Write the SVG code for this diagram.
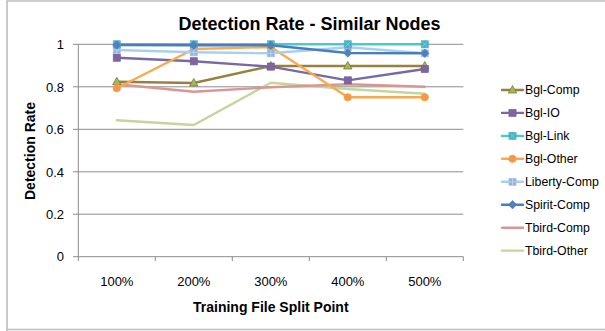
<svg xmlns="http://www.w3.org/2000/svg" width="605" height="331" viewBox="0 0 605 331">
  <style>
    text { font-family: "Liberation Sans", Arial, sans-serif; fill: #000; }
    .title { font-size: 18px; font-weight: bold; text-anchor: middle; }
    .axt { font-size: 14px; font-weight: bold; text-anchor: middle; }
    .ytick { font-size: 13px; text-anchor: end; }
    .xtick { font-size: 13px; text-anchor: middle; }
    .leg { font-size: 12.3px; }
    .grid { stroke: #8c8c8c; stroke-width: 1; fill: none; }
    .axis { stroke: #8c8c8c; stroke-width: 1; fill: none; }
    .s { fill: none; stroke-width: 2.4; stroke-linejoin: round; stroke-linecap: round; }
    .bglcomp { stroke: #98803f; }
    .bglio { stroke: #7669a4; }
    .bgllink { stroke: #4cc9cd; }
    .bglother { stroke: #f9aa4e; }
    .liberty { stroke: #a8cff3; }
    .spirit { stroke: #4a7ebb; }
    .tbcomp { stroke: #d99694; }
    .tbother { stroke: #c3d69b; }
  </style>
  <defs>
    <g id="m-tri"><polygon points="0,-4.5 4.2,3 -4.2,3" fill="#9bbb59" stroke="#8a7536" stroke-width="0.8"/></g>
    <g id="m-sq"><rect x="-3.6" y="-3.6" width="7.2" height="7.2" fill="#8064a2" stroke="#6f5a96" stroke-width="0.6"/></g>
    <g id="m-x"><rect x="-3.6" y="-3.6" width="7.2" height="7.2" fill="#4bacc6" stroke="#3fb6c2" stroke-width="0.6"/><path d="M-3,-3L3,3M3,-3L-3,3" stroke="#7fd8de" stroke-width="0.8"/></g>
    <g id="m-circ"><circle r="3.8" fill="#f79646" stroke="#f9aa4e" stroke-width="0.6"/></g>
    <g id="m-plus"><rect x="-3.6" y="-3.6" width="7.2" height="7.2" fill="#95b3d7" stroke="#a8c6e8" stroke-width="0.6"/><path d="M0,-3.6V3.6M-3.6,0H3.6" stroke="#c5d9f1" stroke-width="0.8"/></g>
    <g id="m-dia"><polygon points="0,-4.2 4.2,0 0,4.2 -4.2,0" fill="#4f81bd" stroke="#4a7ebb" stroke-width="0.6"/></g>
  </defs>

  <!-- chart frame -->
  <rect x="0" y="0" width="605" height="331" fill="#fff"/>
  <path d="M7,331V1H605M7,329.5H605" fill="none" stroke="#bdbdbd" stroke-width="1.6"/>

  <text class="title" x="309.6" y="30">Detection Rate - Similar Nodes</text>

  <!-- gridlines and axes -->
  <g id="grid">
    <path class="grid" d="M73,44.3H463.3M73,86.8H463.3M73,129.3H463.3M73,171.8H463.3M73,214.2H463.3"/>
    <path class="axis" d="M73,256.7H463.3M78.3,44.3V256.7"/>
    <path class="axis" d="M78.3,256.7V261M155.3,256.7V261M232.3,256.7V261M309.3,256.7V261M386.3,256.7V261M463.3,256.7V261"/>
  </g>

  <g id="y-ticks">
    <text class="ytick" x="64" y="49">1</text>
    <text class="ytick" x="64" y="91.5">0.8</text>
    <text class="ytick" x="64" y="134">0.6</text>
    <text class="ytick" x="64" y="176.5">0.4</text>
    <text class="ytick" x="64" y="218.9">0.2</text>
    <text class="ytick" x="64" y="261.4">0</text>
  </g>
  <g id="x-ticks">
    <text class="xtick" x="116.8" y="286">100%</text>
    <text class="xtick" x="193.8" y="286">200%</text>
    <text class="xtick" x="270.8" y="286">300%</text>
    <text class="xtick" x="347.8" y="286">400%</text>
    <text class="xtick" x="424.8" y="286">500%</text>
  </g>

  <text class="axt" x="270.8" y="312">Training File Split Point</text>
  <text class="axt" transform="translate(34.5,151) rotate(-90)">Detection Rate</text>

  <!-- data series -->
  <g id="connectors">
    <polyline class="s tbother" points="116.8,120.3 193.8,125 270.8,82.7 347.8,89 424.8,93.7"/>
    <polyline class="s tbcomp" points="116.8,84.3 193.8,91.7 270.8,87.3 347.8,84.3 424.8,86.7"/>
    <polyline class="s bglcomp" points="116.8,81.7 193.8,83 270.8,66 347.8,66 424.8,66"/>
    <polyline class="s bglio" points="116.8,57.7 193.8,61.3 270.8,66.6 347.8,80.4 424.8,69"/>
    <polyline class="s bglother" points="116.8,88.3 193.8,49 270.8,47 347.8,97.3 424.8,97.3"/>
    <polyline class="s liberty" points="116.8,50 193.8,52.3 270.8,53.3 347.8,47.3 424.8,53.3"/>
    <polyline class="s bgllink" points="116.8,44.3 193.8,44.3 270.8,44.3 347.8,44.3 424.8,44.3"/>
    <polyline class="s spirit" points="116.8,45 193.8,45.3 270.8,45.3 347.8,53 424.8,53.3"/>
  </g>

  <g id="markers">
    <g id="bgl-comp-pts">
      <use href="#m-tri" x="116.8" y="81.7"/><use href="#m-tri" x="193.8" y="83"/><use href="#m-tri" x="270.8" y="66"/><use href="#m-tri" x="347.8" y="66"/><use href="#m-tri" x="424.8" y="66"/>
    </g>
    <g id="bgl-io-pts">
      <use href="#m-sq" x="116.8" y="57.7"/><use href="#m-sq" x="193.8" y="61.3"/><use href="#m-sq" x="270.8" y="66.6"/><use href="#m-sq" x="347.8" y="80.4"/><use href="#m-sq" x="424.8" y="69"/>
    </g>
    <g id="bgl-other-pts">
      <use href="#m-circ" x="116.8" y="88.3"/><use href="#m-circ" x="193.8" y="49"/><use href="#m-circ" x="270.8" y="47"/><use href="#m-circ" x="347.8" y="97.3"/><use href="#m-circ" x="424.8" y="97.3"/>
    </g>
    <g id="liberty-pts">
      <use href="#m-plus" x="116.8" y="50"/><use href="#m-plus" x="193.8" y="52.3"/><use href="#m-plus" x="270.8" y="53.3"/><use href="#m-plus" x="347.8" y="47.3"/><use href="#m-plus" x="424.8" y="53.3"/>
    </g>
    <g id="bgl-link-pts">
      <use href="#m-x" x="116.8" y="44.3"/><use href="#m-x" x="193.8" y="44.3"/><use href="#m-x" x="270.8" y="44.3"/><use href="#m-x" x="347.8" y="44.3"/><use href="#m-x" x="424.8" y="44.3"/>
    </g>
    <g id="spirit-pts">
      <use href="#m-dia" x="116.8" y="45"/><use href="#m-dia" x="193.8" y="45.3"/><use href="#m-dia" x="270.8" y="45.3"/><use href="#m-dia" x="347.8" y="53"/><use href="#m-dia" x="424.8" y="53.3"/>
    </g>
  </g>

  <!-- legend -->
  <g id="legend">
    <g id="leg-bgl-comp"><path class="s bglcomp" d="M502,90H523"/><use href="#m-tri" x="512.5" y="90"/><text class="leg" x="525" y="94.3">Bgl-Comp</text></g>
    <g id="leg-bgl-io"><path class="s bglio" d="M502,112.9H523"/><use href="#m-sq" x="512.5" y="112.9"/><text class="leg" x="525" y="117.2">Bgl-IO</text></g>
    <g id="leg-bgl-link"><path class="s bgllink" d="M502,135.9H523"/><use href="#m-x" x="512.5" y="135.9"/><text class="leg" x="525" y="140.2">Bgl-Link</text></g>
    <g id="leg-bgl-other"><path class="s bglother" d="M502,158.8H523"/><use href="#m-circ" x="512.5" y="158.8"/><text class="leg" x="525" y="163.1">Bgl-Other</text></g>
    <g id="leg-liberty"><path class="s liberty" d="M502,181.8H523"/><use href="#m-plus" x="512.5" y="181.8"/><text class="leg" x="525" y="186.1">Liberty-Comp</text></g>
    <g id="leg-spirit"><path class="s spirit" d="M502,204.7H523"/><use href="#m-dia" x="512.5" y="204.7"/><text class="leg" x="525" y="209">Spirit-Comp</text></g>
    <g id="leg-tbird-comp"><path class="s tbcomp" d="M502,227.7H523"/><text class="leg" x="525" y="232">Tbird-Comp</text></g>
    <g id="leg-tbird-other"><path class="s tbother" d="M502,250.6H523"/><text class="leg" x="525" y="254.9">Tbird-Other</text></g>
  </g>
</svg>
